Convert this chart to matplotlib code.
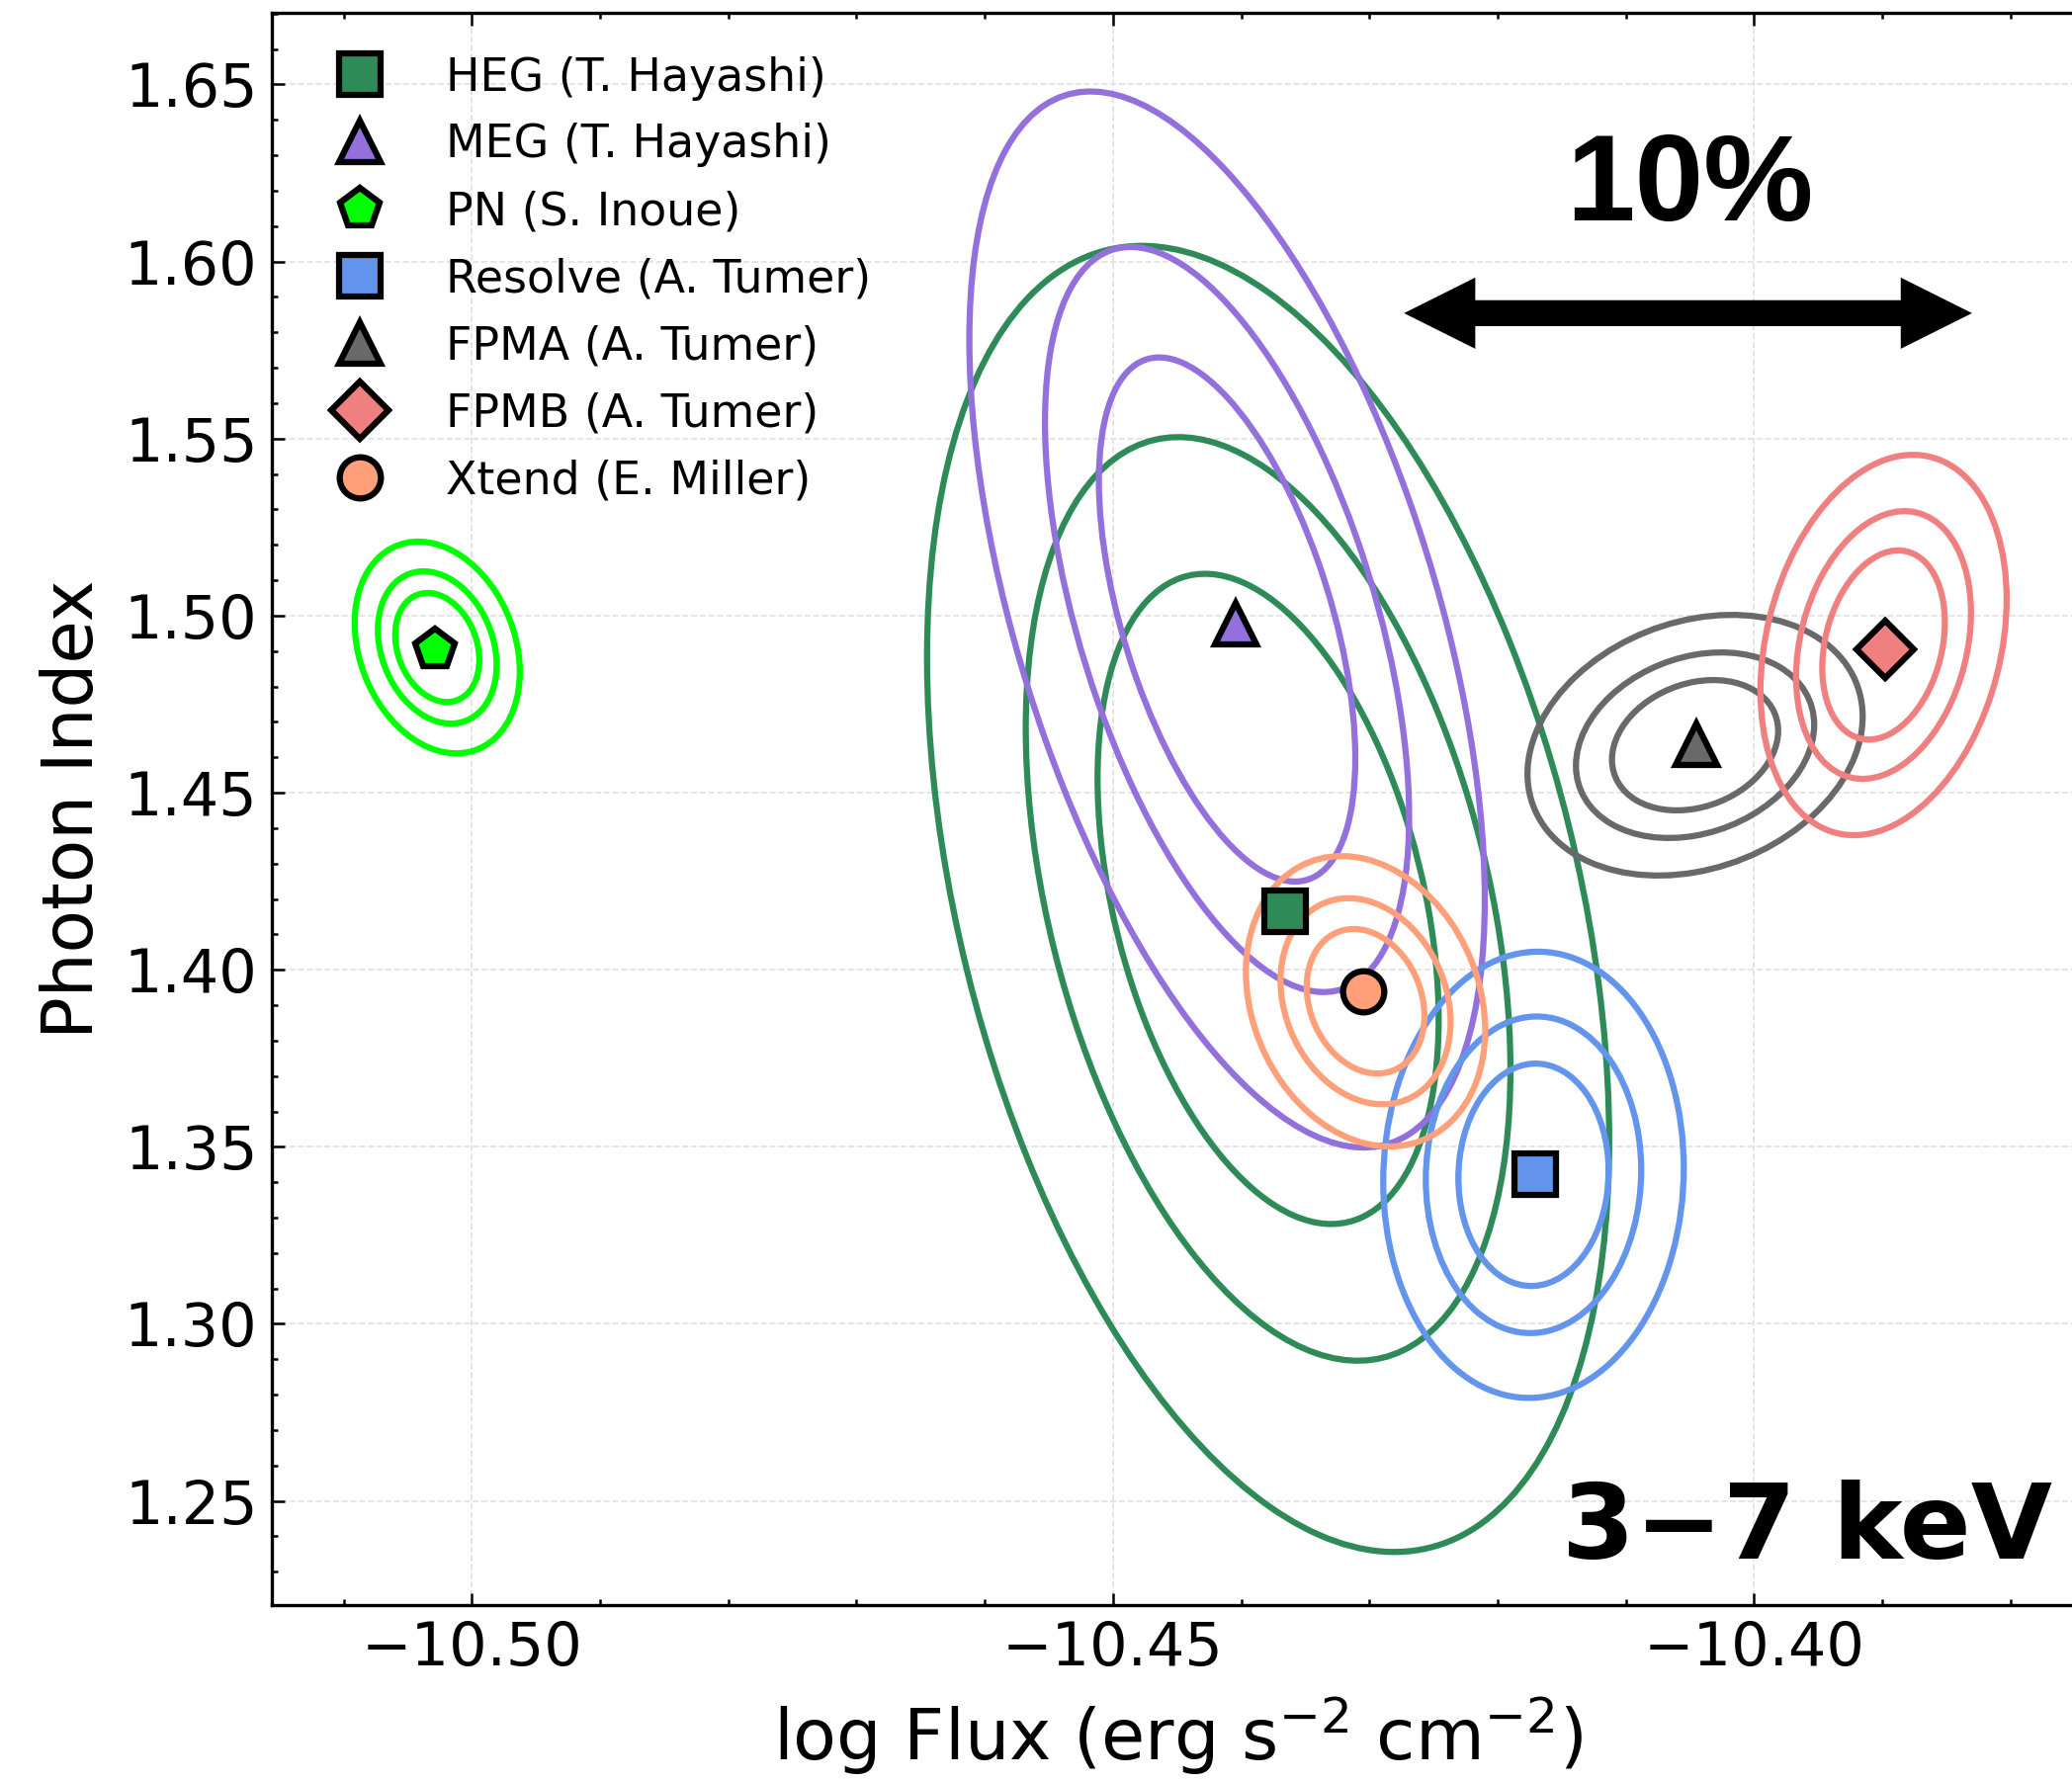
import numpy as np
import matplotlib.pyplot as plt
from matplotlib.patches import Circle
from matplotlib.transforms import Affine2D
from matplotlib.ticker import MultipleLocator, ScalarFormatter

names = ['HEG (T. Hayashi)', 'MEG (T. Hayashi)', 'PN (S. Inoue)', 'Resolve (A. Tumer)',
         'FPMA (A. Tumer)', 'FPMB (A. Tumer)', 'Xtend (E. Miller)']
colors = ['seagreen', 'mediumpurple', 'lime', 'cornflowerblue', 'dimgray', 'lightcoral', 'lightsalmon']
markers = ['s', '^', 'p', 's', '^', 'D', 'o']

# best-fit values
best_flux = [-10.4366, -10.4404, -10.5029, -10.4171, -10.4045, -10.3898, -10.4305]
best_index = [1.4165, 1.4976, 1.4905, 1.3423, 1.4637, 1.4905, 1.3940]

# confidence contours (68, 90, 99 %): centre, half extents, correlation
cont_flux = [-10.4379, -10.4411, -10.5027, -10.4172, -10.4046, -10.3899, -10.4303]
cont_index = [1.4200, 1.4989, 1.4910, 1.3421, 1.4634, 1.4917, 1.3911]
half_flux = [[0.0133, 0.0189, 0.0266],
             [0.0100, 0.0142, 0.0201],
             [0.00328, 0.00463, 0.00644],
             [0.00586, 0.00840, 0.01172],
             [0.00648, 0.00929, 0.01307],
             [0.00478, 0.00682, 0.00960],
             [0.00459, 0.00663, 0.00933]]
half_index = [[0.0918, 0.1304, 0.1844],
              [0.0740, 0.1052, 0.1491],
              [0.0154, 0.0215, 0.0299],
              [0.0314, 0.0447, 0.0630],
              [0.0184, 0.0262, 0.0368],
              [0.0267, 0.0378, 0.0537],
              [0.0204, 0.0291, 0.0410]]
corr = [-0.37, -0.53, -0.23, 0.03, 0.22, 0.24, -0.20]

# 10 % flux bar
bar_left = -10.4273
bar_right = -10.3830
bar_y = 1.5854

if __name__ == '__main__':
    fig = plt.figure(figsize=(2096 / 300, 1802 / 300), dpi=300)
    ax = fig.add_axes([275 / 2096, 178 / 1802, (2109 - 275) / 2096, (1624 - 13) / 1802])

    for i in range(len(names)):
        for hx, hy in zip(half_flux[i], half_index[i]):
            r = corr[i]
            tr = Affine2D.from_values(hx, hy * r, 0, hy * np.sqrt(1 - r ** 2),
                                      cont_flux[i], cont_index[i])
            ell = Circle((0, 0), 1, fill=False, edgecolor=colors[i], lw=1.5,
                         transform=tr + ax.transData, zorder=3)
            ax.add_patch(ell)

    for i in range(len(names)):
        ax.plot(best_flux[i], best_index[i], marker=markers[i], ls='none', ms=10,
                mfc=colors[i], mec='black', mew=1.5, label=names[i], zorder=6)

    # double headed arrow: two overlapping one-headed arrows
    style = 'simple,head_length=0.865,head_width=0.865,tail_width=0.312'
    for a, b in ((bar_left, bar_right), (bar_right, bar_left)):
        ax.annotate('', xy=(b, bar_y), xytext=(a, bar_y),
                    arrowprops=dict(arrowstyle=style, mutation_scale=20, fc='black',
                                    ec='none', lw=0, shrinkA=16, shrinkB=0), zorder=7)
    ax.text(-10.4050, 1.6116, '10%', ha='center', va='baseline', fontsize=30,
            fontweight='bold', family='Liberation Sans', zorder=7)
    ax.text(-10.3959, 1.2337, '3\u22127 keV', ha='center', va='baseline', fontsize=25.5,
            fontweight='bold', zorder=7)

    ax.set_xlim(-10.5156, -10.3742)
    ax.set_ylim(1.2206, 1.6702)
    ax.xaxis.set_major_locator(MultipleLocator(0.05))
    ax.xaxis.set_minor_locator(MultipleLocator(0.01))
    ax.yaxis.set_major_locator(MultipleLocator(0.05))
    ax.yaxis.set_minor_locator(MultipleLocator(0.01))
    ax.xaxis.set_major_formatter(ScalarFormatter(useOffset=False))
    ax.yaxis.set_major_formatter(ScalarFormatter(useOffset=False))
    ax.tick_params(which='both', direction='in', top=True, right=True, labelsize=14.5, width=0.6)
    ax.tick_params(which='major', length=3)
    ax.tick_params(which='minor', length=1.5)
    for sp in ax.spines.values():
        sp.set_linewidth(0.8)

    ax.grid(True, which='major', ls='--', lw=0.4, color='#e0e0e0')
    ax.set_axisbelow(True)

    ax.set_xlabel('log Flux (erg s$^{-2}$ cm$^{-2}$)', fontsize=17.2)
    ax.set_ylabel('Photon Index', fontsize=17)

    ax.legend(loc='upper left', frameon=False, fontsize=11, labelspacing=0.5,
              handletextpad=0.9, borderaxespad=0.55)

    plt.savefig('out.png', dpi=300)
    plt.close()
